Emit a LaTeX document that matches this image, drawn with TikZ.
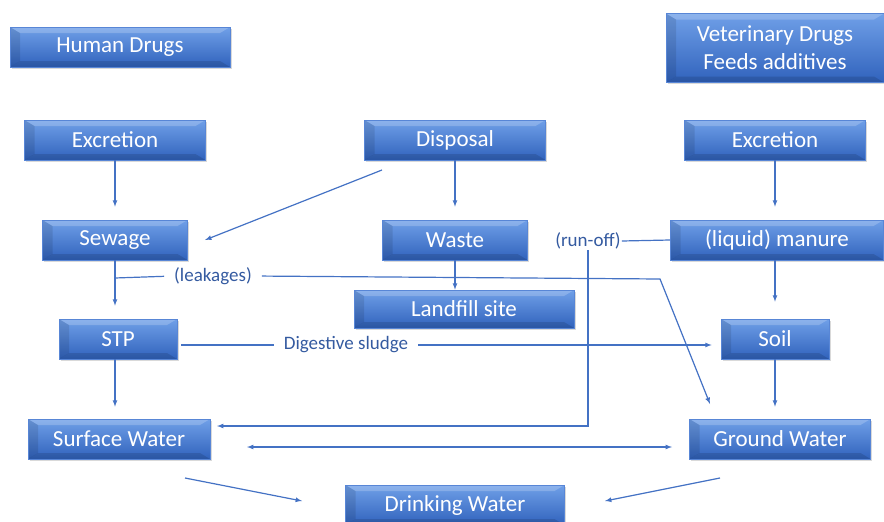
\documentclass[tikz,border=0pt]{standalone}
\usepackage{fontspec}
\setmainfont{Carlito}
\usepackage{tikz}
\usetikzlibrary{shapes,arrows,positioning,shadows}
\definecolor{boxtop}{RGB}{112, 160, 232}
\definecolor{boxbot}{RGB}{48, 98, 188}
\definecolor{boxedge}{RGB}{88, 134, 214}
\definecolor{wire}{RGB}{68, 114, 196}
\definecolor{wiretext}{RGB}{52, 90, 160}
\tikzstyle{box} = [rectangle, draw=boxedge, line width=0.6pt, top color=boxtop, bottom color=boxbot, text=white, align=center, font=\fontsize{23}{28}\selectfont, minimum height=40pt, inner sep=2pt, drop shadow={shadow xshift=1.5pt, shadow yshift=-1.5pt, opacity=0.3},
  path picture={
    \fill[white, opacity=0.2] (path picture bounding box.north west) -- (path picture bounding box.north east) -- ([xshift=-10pt,yshift=-6pt]path picture bounding box.north east) -- ([xshift=10pt,yshift=-6pt]path picture bounding box.north west) -- cycle;
    \fill[black, opacity=0.1] (path picture bounding box.north west) -- ([xshift=10pt,yshift=-6pt]path picture bounding box.north west) -- ([xshift=10pt,yshift=6pt]path picture bounding box.south west) -- (path picture bounding box.south west) -- cycle;
    \fill[black, opacity=0.12] (path picture bounding box.south west) -- (path picture bounding box.south east) -- ([xshift=-10pt,yshift=6pt]path picture bounding box.south east) -- ([xshift=10pt,yshift=6pt]path picture bounding box.south west) -- cycle;
  }]
\tikzstyle{lbl} = [text=wiretext, font=\fontsize{19}{21}\selectfont, inner sep=1pt]
\tikzstyle{tedge} = [draw=wire, line width=1.2pt, >=latex, ->]
\tikzstyle{wedge} = [draw=wire, line width=1.2pt]

\begin{document}
\begin{tikzpicture}[x=1pt, y=-1pt]
\useasboundingbox (0,0) rectangle (884,522);

% sources =============================
\node[box, minimum width=220pt] (human) at (120,47) {Human Drugs};
\node[box, minimum width=218pt, minimum height=69pt] (vet) at (775,48) {Veterinary Drugs\\Feeds additives};

% first row
\node[box, minimum width=181pt] (exl) at (115,140) {Excretion};
\node[box, minimum width=181pt] (disp) at (455,140) {Disposal};
\node[box, minimum width=181pt] (exr) at (775,140) {Excretion};

% second row
\node[box, minimum width=145pt] (sewage) at (115,240) {Sewage};
\node[box, minimum width=145pt] (waste) at (455,240) {Waste};
\node[box, minimum width=213pt] (manure) at (777,240) {(liquid) manure};
\node[box, minimum width=220pt, minimum height=38pt] (landfill) at (464,309) {Landfill site};

% third row
\node[box, minimum width=118pt] (stp) at (118,339) {STP};
\node[box, minimum width=108pt] (soil) at (775,339) {Soil};

% waters
\node[box, minimum width=182pt] (surface) at (119,439) {Surface Water};
\node[box, minimum width=181pt] (ground) at (780,439) {Ground Water};
\node[box, minimum width=219pt] (drink) at (455,505) {Drinking Water};

% labels on wires
\node[lbl] (leak) at (213,276) {(leakages)};
\node[lbl] (sludge) at (346,345) {Digestive sludge};
\node[lbl] (runoff) at (588,241) {(run-off)};

% helper points
\coordinate (lk0) at (115,278);
\coordinate (lk1) at (660,279);
\coordinate (lk2) at (710,404);
\coordinate (ro1) at (588,426);
\coordinate (ro2) at (217,426);
\coordinate (dp0) at (382,170);
\coordinate (dp1) at (205,240);
\coordinate (sw0) at (247,447);
\coordinate (gw0) at (672,447);
\coordinate (sd0) at (185,478);
\coordinate (sd1) at (302,501);
\coordinate (gd0) at (720,478);
\coordinate (gd1) at (605,501);

% vertical edges
\path[tedge, shorten >=13pt] (exl) -- (sewage);
\path[tedge, shorten >=13pt] (disp) -- (waste);
\path[tedge, shorten >=13pt] (exr) -- (manure.north -| exr);
\path[tedge] (waste) -- (landfill.north -| waste);
\path[tedge, shorten >=13pt] (sewage) -- (stp.north -| sewage);
\path[tedge, shorten >=17pt] (manure.south -| soil) -- (soil);
\path[tedge, shorten >=12pt] (stp.south -| sewage) -- (surface.north -| sewage);
\path[tedge, shorten >=12pt] (soil) -- (ground.north -| soil);

% disposal to sewage
\path[tedge] (dp0) -- (dp1);

% leakages
\path[wedge, shorten >=9pt] (lk0) -- (leak.west);
\path[tedge, shorten <=9pt] (leak.east) -- (lk1) -- (lk2);

% sludge
\path[wedge, shorten <=4pt, shorten >=9pt] (stp.east |- sludge) -- (sludge.west);
\path[tedge, shorten <=9pt, shorten >=9pt] (sludge.east) -- (soil.west |- sludge);

% run-off
\path[wedge] (manure.west) -- (runoff.east);
\path[tedge] (runoff.south) -- (ro1) -- (ro2);

% water exchange
\path[tedge, <->] (sw0) -- (gw0);
\path[tedge] (sd0) -- (sd1);
\path[tedge] (gd0) -- (gd1);

\end{tikzpicture}
\end{document}
